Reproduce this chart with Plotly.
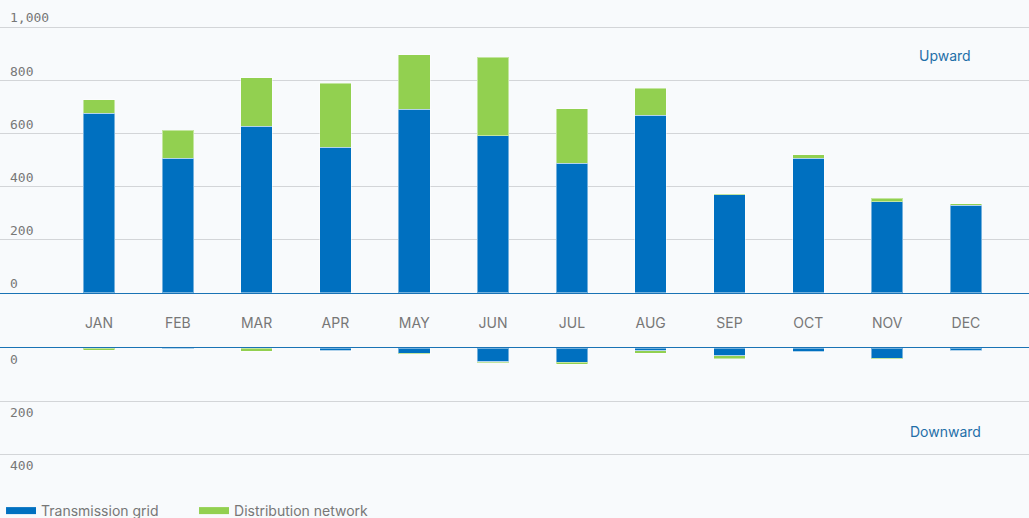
import plotly.graph_objects as go

months = ["JAN", "FEB", "MAR", "APR", "MAY", "JUN", "JUL", "AUG", "SEP", "OCT", "NOV", "DEC"]
up_transmission = [676, 507, 626, 548, 691, 591, 487, 669, 369, 507, 344, 330]
up_distribution = [50, 105, 183, 240, 204, 295, 206, 100, 4, 13, 12, 5]
down_transmission = [1, 2, 1, 10, 19, 52, 53, 10, 30, 14, 38, 10]
down_distribution = [8, 3, 11, 3, 3, 3, 9, 10, 10, 2, 2, 1]
up_ticks = [0, 200, 400, 600, 800, 1000]
down_ticks = [0, 200, 400]

BLUE = "#0070C0"
GREEN = "#92D050"
AXIS = "#1a73b5"
LABEL = "#1f6fa8"
GRID = "#d3d5d8"
BG = "#f8fafc"
TXT = "#777777"

W, H = 1029, 518
def py(p):
    return 1 - p / H

fig = go.Figure()
edge = dict(width=1, color="rgba(255,255,255,0.45)")
fig.add_trace(go.Bar(x=months, y=up_transmission, marker=dict(color=BLUE, line=edge),
                     xaxis="x", yaxis="y", showlegend=False, name="Transmission grid"))
fig.add_trace(go.Bar(x=months, y=up_distribution, marker=dict(color=GREEN, line=edge),
                     xaxis="x", yaxis="y", showlegend=False, name="Distribution network"))
fig.add_trace(go.Bar(x=months, y=down_transmission, marker=dict(color=BLUE, line=edge),
                     xaxis="x2", yaxis="y2", showlegend=False, name="Transmission grid"))
fig.add_trace(go.Bar(x=months, y=down_distribution, marker=dict(color=GREEN, line=edge),
                     xaxis="x2", yaxis="y2", showlegend=False, name="Distribution network"))
# legend entries
fig.add_trace(go.Scatter(x=[None], y=[None], mode="lines", line=dict(color=BLUE, width=7),
                         name="Transmission grid", xaxis="x", yaxis="y"))
fig.add_trace(go.Scatter(x=[None], y=[None], mode="lines", line=dict(color=GREEN, width=7),
                         name="Distribution network", xaxis="x", yaxis="y"))

xr = [-1.256, 11.80]
top_max = 1005
fig.update_layout(
    width=W, height=H,
    margin=dict(l=0, r=0, t=0, b=0, autoexpand=False),
    paper_bgcolor=BG, plot_bgcolor=BG,
    barmode="stack", bargap=0.6,
    font=dict(family="Inter, Roboto, sans-serif", size=14, color=TXT),
    xaxis=dict(domain=[0, 1], range=xr, anchor="y", showgrid=False, showline=True,
               linecolor=AXIS, linewidth=1, ticks="", ticklabelstandoff=17,
               tickfont=dict(family="Inter, sans-serif", size=14, color=TXT), fixedrange=True),
    yaxis=dict(domain=[py(293), py(293 - 0.266 * top_max)], range=[0, top_max], tickvals=up_ticks,
               tickformat=",", ticklabelposition="inside top", ticklabeloverflow="allow",
               ticklabelstandoff=7, showgrid=True, gridcolor=GRID, gridwidth=1, zeroline=False,
               tickfont=dict(family="DejaVu Sans Mono, monospace", size=13, color=TXT)),
    xaxis2=dict(domain=[0, 1], range=xr, anchor="y2", side="top", showgrid=False, showline=True,
                linecolor=AXIS, linewidth=1, ticks="", showticklabels=False),
    yaxis2=dict(domain=[py(481), py(348)], range=[500, 0], tickvals=down_ticks,
                ticklabelposition="inside bottom", ticklabeloverflow="allow", ticklabelstandoff=7,
                ticklabelshift=-2,
                showgrid=True, gridcolor=GRID, gridwidth=1, zeroline=False,
                tickfont=dict(family="DejaVu Sans Mono, monospace", size=13, color=TXT)),
    legend=dict(orientation="h", x=0.001, xanchor="left", y=py(511), yanchor="middle",
                font=dict(family="Inter, sans-serif", size=14, color=TXT),
                bgcolor="rgba(0,0,0,0)", traceorder="normal", entrywidth=148),
)
fig.add_annotation(text="Upward", x=945 / W, y=py(55), xref="paper", yref="paper",
                   xanchor="center", yanchor="middle", showarrow=False,
                   font=dict(family="Inter, sans-serif", size=14, color=LABEL))
fig.add_annotation(text="Downward", x=945 / W, y=py(431), xref="paper", yref="paper",
                   xanchor="center", yanchor="middle", showarrow=False,
                   font=dict(family="Inter, sans-serif", size=14, color=LABEL))

fig.write_html("out.html", config={"displayModeBar": False},
               post_script="document.body.style.margin='0';document.body.style.overflow='hidden';")
